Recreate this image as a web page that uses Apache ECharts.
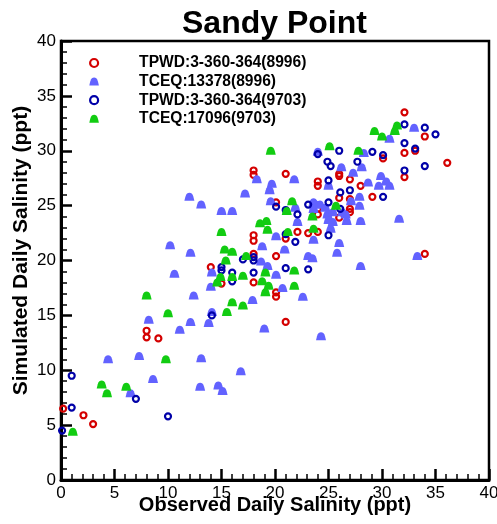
<!DOCTYPE html>
<html>
<head>
<meta charset="utf-8">
<style>
  html, body { margin: 0; padding: 0; background: #fff; }
  #chart { width: 497px; height: 524px; }
</style>
<script src="https://cdn.jsdelivr.net/npm/echarts@6/dist/echarts.min.js"></script>
</head>
<body>
<div id="chart"></div>
<script>
// Observed vs simulated daily salinity (ppt), Sandy Point
const seriesNames = ['TPWD:3-360-364(8996)', 'TCEQ:13378(8996)', 'TPWD:3-360-364(9703)', 'TCEQ:17096(9703)'];

const tpwd8996 = [
  [0.2,6.5],[2.1,5.9],[3.0,5.1],[8.0,13.6],[8.0,13.0],[9.1,12.9],[14.0,19.4],[15.0,17.9],
  [18.0,28.2],[18.0,27.8],[18.0,22.3],[18.0,21.8],[18.0,20.6],[18.0,18.0],[20.1,25.3],[20.1,20.4],
  [20.1,17.1],[20.1,16.7],[21.0,27.9],[21.0,22.0],[21.0,14.4],[22.1,22.6],[23.1,22.5],[24.0,27.2],
  [24.0,26.8],[24.0,24.7],[24.0,24.2],[24.0,22.6],[26.0,27.9],[26.0,27.7],[26.0,25.7],[26.0,23.9],
  [27.0,27.4],[27.0,25.6],[27.0,24.7],[27.0,24.4],[28.0,26.8],[29.1,25.8],[30.1,29.3],[32.1,33.5],
  [32.1,29.8],[32.1,27.6],[33.1,30.0],[34.0,31.3],[34.0,20.6],[36.1,28.9]
];

const tceq13378 = [
  [4.4,11.0],[6.5,7.9],[7.3,11.3],[8.2,14.6],[8.6,9.2],[10.2,21.4],[10.6,18.8],[11.1,13.7],
  [12.0,25.8],[12.1,20.7],[12.1,14.4],[12.4,16.8],[13.0,8.5],[13.1,25.1],[13.1,11.1],[13.8,14.3],
  [14.0,17.6],[14.1,18.9],[14.1,15.3],[14.7,8.6],[15.0,24.5],[15.1,8.1],[16.0,24.5],[16.8,9.9],
  [17.2,26.1],[17.9,16.4],[18.3,27.4],[18.7,19.9],[18.8,21.3],[19.0,13.8],[19.3,19.5],[19.5,26.4],
  [19.6,25.4],[19.7,27.0],[20.1,22.2],[20.1,18.7],[20.7,17.5],[20.9,21.0],[21.8,27.4],[21.9,24.8],
  [22.1,23.5],[22.6,16.7],[23.1,20.4],[23.5,20.2],[23.6,25.3],[23.6,24.7],[23.6,21.9],[23.8,25.1],
  [24.0,29.9],[24.2,25.1],[24.3,13.1],[24.7,24.8],[24.9,24.2],[25.0,26.8],[25.0,23.7],[25.2,22.9],
  [25.4,24.4],[25.4,23.5],[25.8,20.7],[26.0,21.6],[26.2,28.5],[26.3,24.4],[26.6,24.2],[26.7,23.6],
  [27.1,25.4],[27.3,28.0],[27.9,25.8],[27.9,25.0],[28.0,23.6],[28.0,19.5],[28.1,28.5],[28.3,29.8],
  [28.7,27.1],[29.7,26.8],[29.9,27.7],[30.4,27.2],[30.7,26.8],[30.7,31.1],[31.6,23.8],[33.0,32.1],
  [33.3,20.4]
];

const tpwd9703 = [
  [0.1,4.5],[1.0,9.5],[1.0,6.6],[7.0,7.4],[10.0,5.8],[14.1,15.0],[15.0,19.4],[15.0,19.1],
  [16.0,18.9],[16.0,18.1],[17.0,20.1],[18.0,20.3],[18.0,20.0],[18.0,18.9],[20.1,24.9],[21.0,24.6],
  [21.0,22.4],[21.0,19.3],[21.9,21.7],[22.1,24.2],[23.1,25.1],[23.1,19.2],[24.0,29.7],[24.9,29.0],
  [25.2,28.6],[25.0,27.3],[25.0,25.3],[25.0,22.3],[26.0,30.0],[26.1,26.2],[26.1,24.7],[27.0,26.4],
  [27.7,29.0],[29.1,29.9],[30.1,29.6],[30.1,25.8],[32.1,32.4],[32.1,30.7],[32.1,28.2],[33.1,30.2],
  [34.0,32.1],[34.0,28.6],[35.0,31.5]
];

const tceq17096 = [
  [1.1,4.4],[3.8,8.7],[4.3,7.9],[6.1,8.5],[8.0,16.8],[9.8,11.0],[10.0,15.2],[14.6,18.0],
  [14.9,18.5],[15.0,22.6],[15.3,21.0],[15.4,20.0],[15.5,15.3],[16.0,20.8],[16.0,18.5],[16.0,16.2],
  [17.0,18.6],[17.0,15.9],[17.3,20.4],[18.6,23.4],[18.8,18.1],[19.1,18.9],[19.1,17.1],[19.2,23.6],
  [19.3,22.8],[19.4,17.7],[19.6,30.0],[21.1,24.5],[21.2,22.6],[21.6,25.4],[21.8,19.1],[21.8,17.7],
  [23.5,24.0],[23.6,22.9],[25.1,30.4],[25.7,25.0],[27.8,30.0],[29.3,31.8],[30.0,31.3],[31.2,31.8],
  [31.4,32.3]
];

const xTicks = { min: 0, max: 40, step: 5 };
const yTicks = { min: 0, max: 40, step: 5 };

const colors = ['#d40000', '#6262ff', '#0000a8', '#12cc12'];
const FONT = '"Liberation Sans", Arial, sans-serif';
const DOME = 'path://M0,10 L1.2,5 C2.2,1.2 4,0 6,0 C8,0 9.8,1.2 10.8,5 L12,10 Z';

function ringSeries(name, data, color) {
  return {
    name, type: 'scatter', data,
    symbol: 'circle', symbolSize: 6,
    itemStyle: { color: 'rgba(255,255,255,0)', borderColor: color, borderWidth: 2.2, opacity: 1 },
    emphasis: { disabled: true }
  };
}
function domeSeries(name, data, color) {
  return {
    name, type: 'scatter', data,
    symbol: DOME, symbolSize: [10, 8],
    itemStyle: { color, opacity: 1 },
    emphasis: { disabled: true }
  };
}

function axis(t, name, gap, nameFont, namePad) {
  return {
    type: 'value', min: t.min, max: t.max, interval: t.step,
    name, nameLocation: 'middle', nameGap: gap, nameMoveOverlap: false,
    nameTextStyle: { fontFamily: FONT, fontWeight: 'bold', fontSize: nameFont, color: '#000', padding: namePad },
    axisLine: { show: true, onZero: false, lineStyle: { color: '#000', width: 3 } },
    axisTick: { show: true, inside: true, length: 11, lineStyle: { color: '#000', width: 2.5 } },
    minorTick: { show: true, splitNumber: 5, length: 6, lineStyle: { color: '#000', width: 1.5 } },
    splitLine: { show: false },
    axisLabel: { fontFamily: FONT, fontSize: 17, color: '#000', margin: 5 }
  };
}

const chart = echarts.init(document.getElementById('chart'), null, { renderer: 'canvas' });
chart.setOption({
  animation: false,
  backgroundColor: '#fff',
  title: {
    text: 'Sandy Point', left: 182, top: 8, padding: 0,
    textStyle: { fontFamily: FONT, fontWeight: 'bold', fontSize: 32, color: '#000' }
  },
  grid: {
    left: 61, right: 8, top: 41, bottom: 44,
    containLabel: false, outerBoundsMode: 'none',
    show: true, borderColor: '#000', borderWidth: 2.5, backgroundColor: 'transparent'
  },
  legend: {
    orient: 'vertical', left: 89, top: 54, padding: 0,
    itemWidth: 10, itemHeight: 8, itemGap: 0.6,
    selectedMode: false,
    textStyle: { fontFamily: FONT, fontWeight: 'bold', fontSize: 15.6, color: '#000', lineHeight: 18, padding: [0, 0, 0, 35] },
    data: [
      { name: seriesNames[0], icon: 'circle', itemStyle: { color: 'rgba(255,255,255,0)', borderColor: colors[0], borderWidth: 2.2 } },
      { name: seriesNames[1], icon: DOME, itemStyle: { color: colors[1], borderWidth: 0 } },
      { name: seriesNames[2], icon: 'circle', itemStyle: { color: 'rgba(255,255,255,0)', borderColor: colors[2], borderWidth: 2.2 } },
      { name: seriesNames[3], icon: DOME, itemStyle: { color: colors[3], borderWidth: 0 } }
    ]
  },
  xAxis: axis(xTicks, 'Observed Daily Salinity (ppt)', 15, 20, 0),
  yAxis: axis(yTicks, 'Simulated Daily Salinity (ppt)', 29, 21, [0, 0, 0, 20]),
  series: [
    ringSeries(seriesNames[0], tpwd8996, colors[0]),
    domeSeries(seriesNames[1], tceq13378, colors[1]),
    ringSeries(seriesNames[2], tpwd9703, colors[2]),
    domeSeries(seriesNames[3], tceq17096, colors[3])
  ]
});
</script>
</body>
</html>
